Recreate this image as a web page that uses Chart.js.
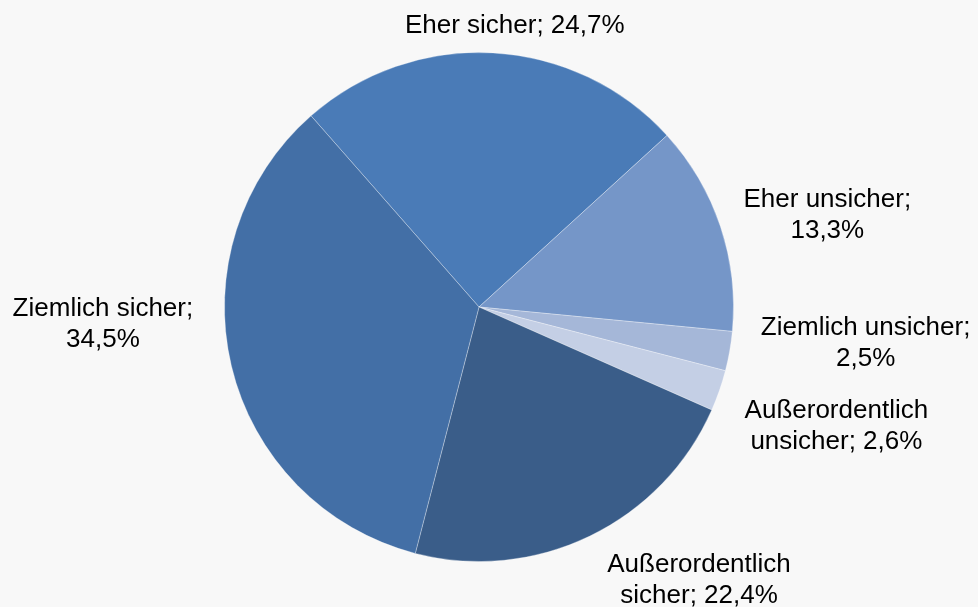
<!DOCTYPE html>
<html>
<head>
<meta charset="utf-8">
<script src="https://cdn.jsdelivr.net/npm/chart.js@4"></script>
<style>
  html, body { margin: 0; padding: 0; background: #f8f8f8; }
  #wrap { width: 978px; height: 607px; }
</style>
</head>
<body>
<div id="wrap"><canvas id="chart"></canvas></div>
<script>
const categories = ['Eher sicher', 'Eher unsicher', 'Ziemlich unsicher', 'Außerordentlich unsicher', 'Außerordentlich sicher', 'Ziemlich sicher'];
const shares = [24.7, 13.3, 2.5, 2.6, 22.4, 34.5];
const labelLines = [
  ['Eher sicher; 24,7%'],
  ['Eher unsicher;', '13,3%'],
  ['Ziemlich unsicher;', '2,5%'],
  ['Außerordentlich', 'unsicher; 2,6%'],
  ['Außerordentlich', 'sicher; 22,4%'],
  ['Ziemlich sicher;', '34,5%']
];
const sliceColors = ['#4a7bb7', '#7596c8', '#a5b7d8', '#c4cfe5', '#3a5d89', '#436fa6'];

// small hand tweaks so labels land where the original put them
const labelNudge = [[15, 0], [16, 2], [21, -15], [19, 22], [64, 6], [-29, -52]];

const outsideLabels = {
  id: 'outsideLabels',
  afterDatasetsDraw(chart) {
    const ctx = chart.ctx;
    const meta = chart.getDatasetMeta(0);
    ctx.save();
    ctx.font = '26px "Liberation Sans", Arial, sans-serif';
    ctx.fillStyle = '#000';
    ctx.textAlign = 'center';
    ctx.textBaseline = 'middle';
    const lineH = 31;
    meta.data.forEach((arc, i) => {
      const p = arc.getProps(['x', 'y', 'startAngle', 'endAngle', 'outerRadius'], true);
      const mid = (p.startAngle + p.endAngle) / 2;
      const lines = labelLines[i];
      const w = Math.max(...lines.map(l => ctx.measureText(l).width));
      const h = lines.length * lineH;
      const r = p.outerRadius + 12;
      const ax = p.x + Math.cos(mid) * r;
      const ay = p.y + Math.sin(mid) * r;
      const cx = ax + Math.cos(mid) * w / 2 + labelNudge[i][0];
      const cy = ay + Math.sin(mid) * h / 2 + labelNudge[i][1];
      lines.forEach((line, k) => {
        ctx.fillText(line, cx, cy - h / 2 + lineH / 2 + k * lineH);
      });
    });
    ctx.restore();
  }
};

new Chart(document.getElementById('chart'), {
  type: 'pie',
  data: {
    labels: categories,
    datasets: [{
      data: shares,
      backgroundColor: sliceColors,
      borderColor: 'rgba(255,255,255,0.3)',
      borderWidth: 1
    }]
  },
  options: {
    responsive: true,
    maintainAspectRatio: false,
    animation: false,
    rotation: -41.3,
    layout: {
      padding: { top: 52, bottom: 45, left: 224, right: 244 }
    },
    plugins: {
      legend: { display: false },
      tooltip: { enabled: false }
    }
  },
  plugins: [outsideLabels]
});
</script>
</body>
</html>
